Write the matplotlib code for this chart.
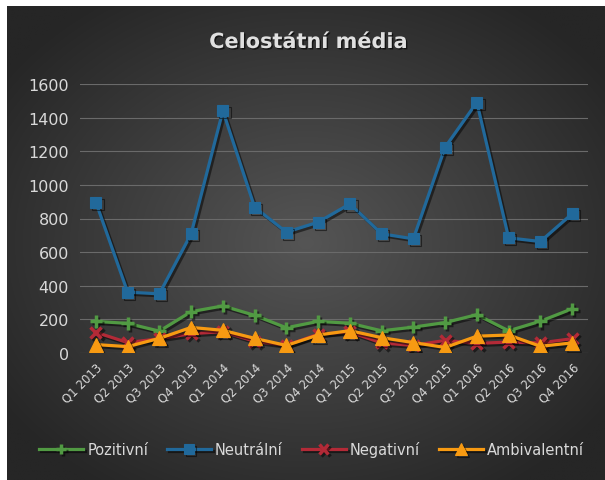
import numpy as np
import matplotlib
matplotlib.use("Agg")
import matplotlib.pyplot as plt
import matplotlib.patheffects as pe

categories = ["Q1 2013", "Q2 2013", "Q3 2013", "Q4 2013",
              "Q1 2014", "Q2 2014", "Q3 2014", "Q4 2014",
              "Q1 2015", "Q2 2015", "Q3 2015", "Q4 2015",
              "Q1 2016", "Q2 2016", "Q3 2016", "Q4 2016"]
pozitivni = [188, 176, 130, 246, 280, 224, 150, 188, 177, 132, 154, 181, 228, 132, 189, 263]
neutralni = [897, 362, 352, 709, 1441, 867, 719, 778, 887, 709, 679, 1224, 1491, 685, 663, 828]
negativni = [123, 62, 85, 115, 127, 70, 45, 112, 125, 60, 45, 75, 57, 65, 60, 85]
ambivalentni = [50, 38, 87, 152, 135, 87, 45, 107, 133, 91, 62, 33, 100, 107, 40, 60]
yticks = [0, 200, 400, 600, 800, 1000, 1200, 1400, 1600]
title = "Celostátní média"

W, H = 605, 481
fig = plt.figure(figsize=(W / 100, H / 100), dpi=100)
fig.patch.set_facecolor("white")

# background panel with radial gradient
bg = fig.add_axes([7 / W, 0, 1 - 7 / W, 1 - 7 / H])
bg.set_axis_off()
yy, xx = np.mgrid[0:1:300j, 0:1:300j]
r = np.sqrt(((xx - 0.5) / 0.62) ** 2 + ((yy - 0.5) / 0.62) ** 2)
r = np.clip(r, 0, 1)
c_center = np.array([0x55, 0x55, 0x55]) / 255
c_edge = np.array([0x26, 0x26, 0x26]) / 255
img = c_center[None, None, :] * (1 - r[..., None]) + c_edge[None, None, :] * r[..., None]
bg.imshow(img, aspect="auto", extent=[0, 1, 0, 1], interpolation="bilinear")
bg.set_xlim(0, 1)
bg.set_ylim(0, 1)

ax = fig.add_axes([80 / W, 1 - 354 / H, (588 - 80) / W, (354 - 85) / H])
ax.patch.set_alpha(0)
x = np.arange(len(categories))

shadow = [pe.SimpleLineShadow(offset=(1.5, -1.5), shadow_color="black", alpha=0.5), pe.Normal()]

series = [
    ("Pozitivní", pozitivni, "#519a43", "+", 9, 2.5),
    ("Neutrální", neutralni, "#21699b", "s", 8, 0),
    ("Negativní", negativni, "#b32a37", "x", 8, 2.5),
    ("Ambivalentní", ambivalentni, "#f79a12", "^", 10, 0),
]
for name, vals, col, mk, ms, mew in series:
    kw = dict(markeredgewidth=mew) if mew else dict(markeredgecolor=col, markeredgewidth=0.8)
    ax.plot(x, vals, color=col, lw=2.3, marker=mk, markersize=ms, label=name,
            path_effects=shadow, **kw)

ax.set_xlim(-0.5, len(categories) - 0.5)
ax.set_ylim(0, 1600)
ax.set_yticks(yticks)
ax.set_yticklabels([str(v) for v in yticks])
ax.set_xticks(x)
ax.set_xticklabels(categories, rotation=45, ha="right", rotation_mode="anchor")
ax.grid(axis="y", color="#6a6a6a", lw=0.8)
ax.set_axisbelow(True)
for s in ax.spines.values():
    s.set_visible(False)
ax.tick_params(axis="y", length=0, labelsize=11.5, labelcolor="#d9d9d9", pad=8)
ax.tick_params(axis="x", length=0, labelsize=8.5, labelcolor="#d9d9d9", pad=5)

fig.text(0.51, 1 - 43 / H, title, ha="center", va="center", fontsize=15,
         fontweight="bold", color="#e0e0e0",
         path_effects=[pe.withSimplePatchShadow(offset=(1, -1), shadow_rgbFace="black", alpha=0.6)])

leg = fig.legend(loc="center", bbox_to_anchor=(0.515, 1 - 450 / H), ncol=4, frameon=False,
                 fontsize=10.5, handlelength=3.0, columnspacing=1.3, handletextpad=0.3,
                 labelcolor="#d9d9d9", markerscale=0.85)

fig.savefig("out.png", dpi=100)
